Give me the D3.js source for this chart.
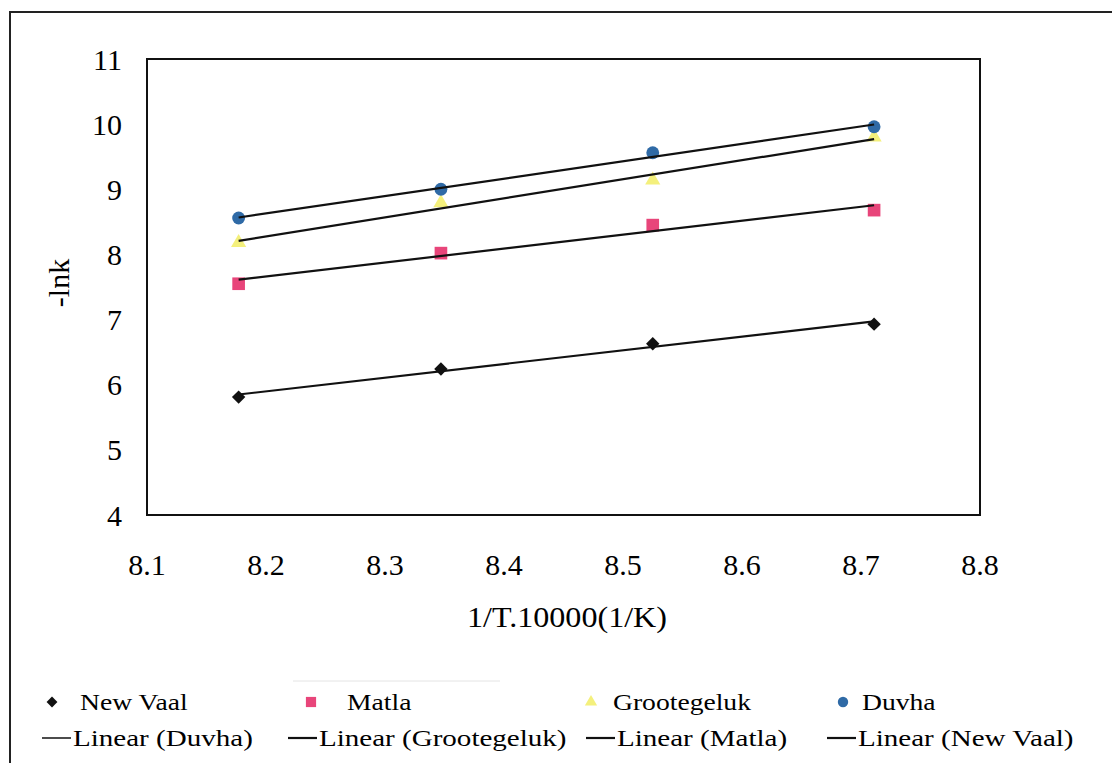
<!DOCTYPE html>
<html>
<head>
<meta charset="utf-8">
<script src="https://cdn.jsdelivr.net/npm/d3@7"></script>
</head>
<body style="margin:0">
<div class="graphic"></div>
<script>
// 1/T * 10000 for the four run temperatures
var xValues = [8.177, 8.347, 8.525, 8.711];

var newVaal = [5.81, 6.24, 6.63, 6.93];
var matla = [7.55, 8.02, 8.45, 8.68];
var grootegeluk = [8.18, 8.79, 9.14, 9.80];
var duvha = [8.56, 9.00, 9.56, 9.96];

var xTicks = [8.1, 8.2, 8.3, 8.4, 8.5, 8.6, 8.7, 8.8];
var yTicks = [4, 5, 6, 7, 8, 9, 10, 11];

var seriesNames = ['New Vaal', 'Matla', 'Grootegeluk', 'Duvha'];
var trendNames = ['Linear (Duvha)', 'Linear (Grootegeluk)', 'Linear (Matla)', 'Linear (New Vaal)'];

var width = 1112;
var height = 763;

var svg = d3.select('.graphic').append('svg')
	.attr('width', width)
	.attr('height', height);

var FONT = 'Times New Roman';

// every label goes through here so the serif face is set on the text itself
function label(sel, size) {
	return sel.style('font-family', FONT)
		.style('font-size', size + 'px');
}

// the scanned original is a little wider than the font, stretch text to match
function stretch(sel, k) {
	sel.each(function() {
		var w = this.getComputedTextLength();
		d3.select(this).attr('textLength', w * k).attr('lengthAdjust', 'spacingAndGlyphs');
	});
}

// outer frame (scan shows left and top edges)
svg.append('path')
	.attr('d', 'M10,763 L10,12 L1112,12')
	.attr('fill', 'none')
	.attr('stroke', '#222')
	.attr('stroke-width', 2);

var x = d3.scaleLinear().domain([8.1, 8.8]).range([147, 980]);
var y = d3.scaleLinear().domain([4, 11]).range([515, 59]);

svg.append('rect')
	.attr('x', x(8.1))
	.attr('y', y(11))
	.attr('width', x(8.8) - x(8.1))
	.attr('height', y(4) - y(11))
	.attr('fill', 'none')
	.attr('stroke', '#111')
	.attr('stroke-width', 2);

svg.selectAll('.ytick')
	.data(yTicks)
	.enter()
	.append('text')
	.attr('class', 'ytick')
	.attr('x', 122)
	.attr('y', function(d) { return y(d); })
	.attr('dy', '0.35em')
	.attr('text-anchor', 'end')
	.call(label, 30)
	.text(function(d) { return d; });

svg.selectAll('.xtick')
	.data(xTicks)
	.enter()
	.append('text')
	.attr('class', 'xtick')
	.attr('x', function(d) { return x(d); })
	.attr('y', 575)
	.attr('text-anchor', 'middle')
	.call(label, 30)
	.text(function(d) { return d3.format('.1f')(d); });

svg.append('text')
	.attr('x', 567)
	.attr('y', 627)
	.attr('text-anchor', 'middle')
	.call(label, 30)
	.text('1/T.10000(1/K)')
	.call(stretch, 1.07);

svg.append('text')
	.attr('transform', 'translate(69,283) rotate(-90)')
	.attr('text-anchor', 'middle')
	.call(label, 30)
	.text('-lnk');

function fit(ys) {
	var mx = d3.mean(xValues), my = d3.mean(ys);
	var sxy = d3.sum(xValues, function(v, i) { return (v - mx) * (ys[i] - my); });
	var sxx = d3.sum(xValues, function(v) { return (v - mx) * (v - mx); });
	var b = sxy / sxx;
	return function(v) { return my + b * (v - mx); };
}

var series = [
	{ name: 'New Vaal', values: newVaal, symbol: d3.symbolSquare, size: 90, rot: 45, color: '#111' },
	{ name: 'Matla', values: matla, symbol: d3.symbolSquare, size: 160, rot: 0, color: '#e8457a' },
	{ name: 'Grootegeluk', values: grootegeluk, symbol: d3.symbolTriangle, size: 100, rot: 0, color: '#f4f07c' },
	{ name: 'Duvha', values: duvha, symbol: d3.symbolCircle, size: 130, rot: 0, color: '#2f6aa6' }
];

// markers first, trend lines over them
series.forEach(function(s) {
	svg.selectAll(null)
		.data(s.values)
		.enter()
		.append('path')
		.attr('d', d3.symbol().type(s.symbol).size(s.size))
		.attr('transform', function(d, i) { return `translate(${x(xValues[i])},${y(d)}) rotate(${s.rot})`; })
		.attr('fill', s.color);
});

var line = d3.line();
series.forEach(function(s) {
	var f = fit(s.values);
	var x0 = xValues[0], x1 = xValues[xValues.length - 1];
	svg.append('path')
		.attr('d', line([[x(x0), y(f(x0))], [x(x1), y(f(x1))]]))
		.attr('fill', 'none')
		.attr('stroke', '#111')
		.attr('stroke-width', 2.2);
});

// legend
var markerX = [52, 311, 591, 843];
var labelX = [80, 347, 613, 862];
var legendRow1 = 702;
var legendRow2 = 738;

svg.append('line')
	.attr('x1', 293).attr('x2', 500)
	.attr('y1', 681).attr('y2', 681)
	.attr('stroke', '#e4e4e4')
	.attr('stroke-width', 1);

series.forEach(function(s, i) {
	svg.append('path')
		.attr('d', d3.symbol().type(s.symbol).size(s.size * 0.65))
		.attr('transform', `translate(${markerX[i]},${legendRow1}) rotate(${s.rot})`)
		.attr('fill', s.color);
	svg.append('text')
		.attr('x', labelX[i])
		.attr('y', legendRow1)
		.attr('dy', '0.35em')
		.call(label, 24)
		.text(s.name)
		.call(stretch, 1.15);
});

var trendX = [42, 288, 586, 827];
trendNames.forEach(function(n, i) {
	svg.append('line')
		.attr('x1', trendX[i]).attr('x2', trendX[i] + 29)
		.attr('y1', legendRow2).attr('y2', legendRow2)
		.attr('stroke', '#111')
		.attr('stroke-width', i === 0 ? 1.5 : 2.2);
	svg.append('text')
		.attr('x', trendX[i] + 31)
		.attr('y', legendRow2)
		.attr('dy', '0.35em')
		.call(label, 24)
		.text(n)
		.call(stretch, 1.21);
});
</script>
</body>
</html>
